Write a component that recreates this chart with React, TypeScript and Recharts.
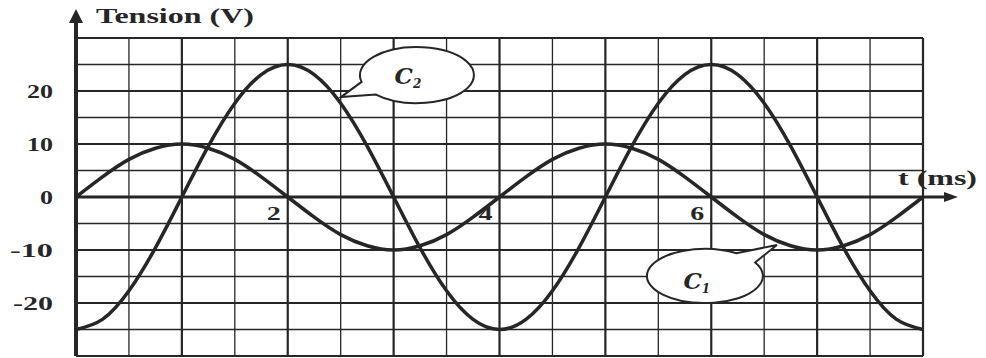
import { LineChart, Line, XAxis, YAxis, ReferenceLine, ReferenceDot } from "recharts";

// time axis (ms), read every quarter division
const TIME = [
  0, 0.25, 0.5, 0.75, 1, 1.25, 1.5, 1.75, 2, 2.25, 2.5, 2.75, 3, 3.25, 3.5, 3.75, 4,
  4.25, 4.5, 4.75, 5, 5.25, 5.5, 5.75, 6, 6.25, 6.5, 6.75, 7, 7.25, 7.5, 7.75, 8,
];

// curve C1 (V)
const C1 = [
  0, 3.8, 7.1, 9.2, 10, 9.2, 7.1, 3.8, 0, -3.8, -7.1, -9.2, -10, -9.2, -7.1, -3.8, 0,
  3.8, 7.1, 9.2, 10, 9.2, 7.1, 3.8, 0, -3.8, -7.1, -9.2, -10, -9.2, -7.1, -3.8, 0,
];

// curve C2 (V)
const C2 = [
  -25, -23.1, -17.7, -9.6, 0, 9.6, 17.7, 23.1, 25, 23.1, 17.7, 9.6, 0, -9.6, -17.7, -23.1, -25,
  -23.1, -17.7, -9.6, 0, 9.6, 17.7, 23.1, 25, 23.1, 17.7, 9.6, 0, -9.6, -17.7, -23.1, -25,
];

const GRID_T = [0, 0.5, 1, 1.5, 2, 2.5, 3, 3.5, 4, 4.5, 5, 5.5, 6, 6.5, 7, 7.5, 8];
const GRID_V = [-30, -25, -20, -15, -10, -5, 0, 5, 10, 15, 20, 25, 30];
const Y_TICKS = [20, 10, 0, -10, -20];
const X_TICKS = [2, 4, 6];

const data = TIME.map((t, i) => ({ t, c1: C1[i], c2: C2[i] }));

const INK = "#262626";
const FONT = '"Liberation Serif", "Times New Roman", serif';

const yTickWidth: Record<string, number> = { "20": 26, "10": 26, "0": 13, "-10": 43, "-20": 40 };

function YTick(props: any) {
  const label = String(props.payload.value);
  return (
    <text
      x={props.x}
      y={props.y + 7}
      textAnchor="end"
      fontFamily={FONT}
      fontWeight="bold"
      fontSize={19}
      fill={INK}
      textLength={yTickWidth[label]}
      lengthAdjust="spacingAndGlyphs"
    >
      {label}
    </text>
  );
}

function bubblePath(cx: number, cy: number, rx: number, ry: number, a1: number, a2: number, tx: number, ty: number) {
  const p = (a: number) => {
    const r = (a * Math.PI) / 180;
    return `${cx + rx * Math.cos(r)} ${cy + ry * Math.sin(r)}`;
  };
  return `M ${p(a1)} A ${rx} ${ry} 0 1 1 ${p(a2)} L ${cx + tx} ${cy + ty} Z`;
}

function Bubble({ cx, cy, a1, a2, tx, ty, rx, ry, sub, lx, ly }: any) {
  return (
    <g>
      <path d={bubblePath(cx, cy, rx, ry, a1, a2, tx, ty)} fill="#fff" stroke={INK} strokeWidth={2} />
      <text x={cx + lx} y={cy + ly} textAnchor="middle" fontFamily='"DejaVu Serif", serif' fontStyle="italic" fontWeight="bold" fontSize={23} fill={INK}>
        C
        <tspan fontSize={12} dy={4}>{sub}</tspan>
      </text>
    </g>
  );
}

export default function App() {
  return (
    <div style={{ position: "absolute", left: 0, top: 0, width: 986, height: 358, background: "#fff" }}>
      <LineChart width={986} height={358} data={data} margin={{ top: 38, right: 63, bottom: 2, left: 0 }}>
        <XAxis type="number" dataKey="t" domain={[0, 8]} hide />
        <YAxis
          type="number"
          domain={[-30, 30]}
          ticks={Y_TICKS}
          width={76}
          axisLine={false}
          tickLine={false}
          tickSize={0}
          tickMargin={23}
          tick={<YTick />}
        />

        {GRID_T.map((v) => (
          <ReferenceLine key={`gt${v}`} x={v} stroke={INK} strokeWidth={Number.isInteger(v) ? 2.2 : 1.3} />
        ))}
        {GRID_V.map((v) => (
          <ReferenceLine key={`gv${v}`} y={v} stroke={INK} strokeWidth={v % 10 === 0 ? 2.2 : 1.3} />
        ))}

        {/* axes with arrows */}
        <ReferenceLine segment={[{ x: 0, y: -30 }, { x: 0, y: 33 }]} stroke={INK} strokeWidth={4} ifOverflow="visible" />
        <ReferenceLine segment={[{ x: 0, y: 0 }, { x: 8.2, y: 0 }]} stroke={INK} strokeWidth={3} ifOverflow="visible" />
        <ReferenceDot
          x={0}
          y={30}
          ifOverflow="visible"
          shape={(p: any) => (
            <g>
              <polygon points={`${p.cx},${p.cy - 29} ${p.cx - 7},${p.cy - 15} ${p.cx + 7},${p.cy - 15}`} fill={INK} />
              <text x={p.cx + 20} y={p.cy - 15} fontFamily={FONT} fontWeight="bold" fontSize={21} fill={INK} textLength={158} lengthAdjust="spacingAndGlyphs">
                Tension (V)
              </text>
            </g>
          )}
        />
        <ReferenceDot
          x={8}
          y={0}
          ifOverflow="visible"
          shape={(p: any) => (
            <g>
              <polygon points={`${p.cx + 35},${p.cy} ${p.cx + 21},${p.cy - 5} ${p.cx + 21},${p.cy + 5}`} fill={INK} />
              <text x={p.cx - 25} y={p.cy - 12} fontFamily={FONT} fontWeight="bold" fontSize={20} fill={INK} textLength={79} lengthAdjust="spacingAndGlyphs">
                t (ms)
              </text>
            </g>
          )}
        />
        {X_TICKS.map((v) => (
          <ReferenceDot
            key={`xt${v}`}
            x={v}
            y={0}
            shape={(p: any) => (
              <text x={p.cx - 14} y={p.cy + 23} textAnchor="middle" fontFamily={FONT} fontWeight="bold" fontSize={19} fill={INK} textLength={14} lengthAdjust="spacingAndGlyphs">
                {v}
              </text>
            )}
          />
        ))}

        <Line type="natural" dataKey="c1" stroke={INK} strokeWidth={3.5} dot={false} isAnimationActive={false} />
        <Line type="natural" dataKey="c2" stroke={INK} strokeWidth={3.5} dot={false} isAnimationActive={false} />

        {/* callouts */}
        <ReferenceDot
          x={3.22}
          y={23}
          ifOverflow="visible"
          shape={(p: any) => <Bubble cx={p.cx} cy={p.cy} rx={57} ry={28} a1={166} a2={136} tx={-76} ty={22} sub="2" lx={-9} ly={9} />}
        />
        <ReferenceDot
          x={5.94}
          y={-14.9}
          ifOverflow="visible"
          shape={(p: any) => <Bubble cx={p.cx} cy={p.cy} rx={58} ry={27} a1={-30} a2={303} tx={72} ty={-31} sub="1" lx={-8} ly={13} />}
        />
      </LineChart>
    </div>
  );
}
